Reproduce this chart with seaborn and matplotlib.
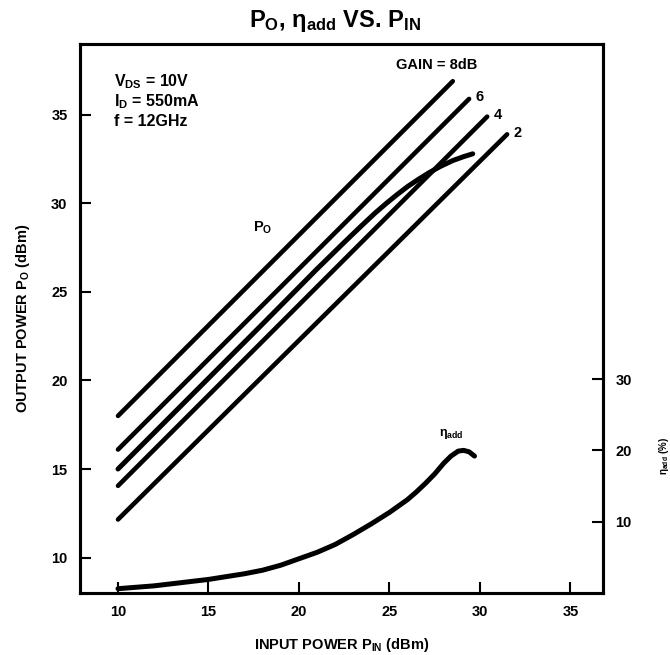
import matplotlib
matplotlib.use("Agg")
import matplotlib.pyplot as plt
import seaborn as sns
import pandas as pd

# ---- data ----
gain_labels = ["8", "6", "4", "2"]
gain_x_start = [10, 10, 10, 10]
gain_x_end = [28.5, 29.4, 30.4, 31.5]
gain_y_start = [18.0, 16.1, 14.05, 12.15]
gain_y_end = [36.9, 35.9, 34.9, 33.9]

po_pin = [10, 14, 18, 21, 22.5, 23.5, 24.2, 24.8, 25.4, 26.0, 26.6, 27.2, 27.8, 28.5, 29.1, 29.6]
po_out = [15.0, 19.1, 23.2, 26.3, 27.8, 28.78, 29.45, 29.98, 30.48, 30.95, 31.36, 31.74, 32.08, 32.42, 32.64, 32.8]

eta_pin = [10, 11, 12, 13, 14, 15, 16, 17, 18, 19, 20, 21, 22, 23, 24, 25, 26,
           26.5, 27, 27.5, 28, 28.4, 28.8, 29.1, 29.4, 29.7]
eta_pct = [0.6, 0.8, 1.0, 1.3, 1.6, 1.9, 2.3, 2.7, 3.2, 3.9, 4.8, 5.7, 6.8, 8.2, 9.7, 11.3, 13.1,
           14.2, 15.4, 16.7, 18.2, 19.2, 19.9, 20.0, 19.8, 19.2]

x_ticks = [10, 15, 20, 25, 30, 35]
y_ticks = [10, 15, 20, 25, 30, 35]
eta_ticks = [10, 20, 30]

conditions = [r"$V_{DS}$ = 10V", r"$I_D$ = 550mA", "f = 12GHz"]

# ---- style ----
sns.set_theme(style="white")
plt.rcParams["font.family"] = ["Liberation Sans", "DejaVu Sans"]
plt.rcParams["font.weight"] = "bold"
plt.rcParams["text.color"] = "black"
plt.rcParams["axes.labelcolor"] = "black"
plt.rcParams["xtick.color"] = "black"
plt.rcParams["ytick.color"] = "black"
plt.rcParams["mathtext.fontset"] = "custom"
plt.rcParams["mathtext.rm"] = "Liberation Sans:bold"
plt.rcParams["mathtext.it"] = "Liberation Sans:bold"
plt.rcParams["mathtext.bf"] = "Liberation Sans:bold"
plt.rcParams["mathtext.default"] = "rm"

fig = plt.figure(figsize=(6.7, 6.55), dpi=100)
ax = fig.add_axes([0.1194, 0.0947, 0.9 - 0.1194, 0.9328 - 0.0947])

# gain lines
rows = []
for g, xs, xe, ys, ye in zip(gain_labels, gain_x_start, gain_x_end, gain_y_start, gain_y_end):
    rows.append({"gain": g, "pin": xs, "pout": ys})
    rows.append({"gain": g, "pin": xe, "pout": ye})
gain_df = pd.DataFrame(rows)
sns.lineplot(data=gain_df, x="pin", y="pout", units="gain", estimator=None,
             color="black", lw=3.3, ax=ax, solid_capstyle="round", legend=False)

po_df = pd.DataFrame({"pin": po_pin, "pout": po_out})
sns.lineplot(data=po_df, x="pin", y="pout", color="black", lw=3.6, ax=ax,
             sort=False, estimator=None, solid_capstyle="round", solid_joinstyle="round")

ax.set_xlim(7.9, 36.8)
ax.set_ylim(8.0, 39.0)
ax.set_xticks(x_ticks)
ax.set_yticks(y_ticks)
ax.tick_params(axis="both", direction="in", length=8, width=1.5, pad=9,
               labelsize=10.5, top=False, right=False, bottom=True, left=True,
               colors="black")
for lab in ax.get_xticklabels() + ax.get_yticklabels():
    lab.set_fontweight("bold")
for s in ax.spines.values():
    s.set_linewidth(2.2)
    s.set_color("black")
ax.set_xlabel(r"INPUT POWER $P_{IN}$ (dBm)", fontsize=10.5, fontweight="bold",
              labelpad=12, color="black")
ax.set_ylabel(r"OUTPUT POWER $P_O$ (dBm)", fontsize=10.5, fontweight="bold",
              labelpad=14, color="black")

# efficiency on twin axis
ax2 = ax.twinx()
eta_df = pd.DataFrame({"pin": eta_pin, "eta": eta_pct})
sns.lineplot(data=eta_df, x="pin", y="eta", color="black", lw=3.6, ax=ax2,
             sort=False, estimator=None, solid_capstyle="round", solid_joinstyle="round")
ax2.set_ylim(0, 77)
ax2.set_yticks(eta_ticks)
ax2.tick_params(axis="y", direction="in", length=8, width=1.5, pad=9, labelsize=10.5,
                left=False, right=True, colors="black")
for lab in ax2.get_yticklabels():
    lab.set_fontweight("bold")
ax2.set_ylabel(r"$\eta_{add}$ (%)", fontsize=7, fontweight="bold", color="black")
ax2.yaxis.set_label_coords(1.103, 0.25)
ax2.grid(False)
for s in ax2.spines.values():
    s.set_linewidth(2.2)
    s.set_color("black")

# annotations
for i, t in enumerate(conditions):
    ax.text(9.8, 36.9 - i * 1.15, t, fontsize=11.5, fontweight="bold", va="center", ha="left")
ax.text(27.6, 37.8, "GAIN = 8dB", fontsize=10.5, fontweight="bold", ha="center", va="center")
for g, xe, ye in zip(gain_labels[1:], gain_x_end[1:], gain_y_end[1:]):
    ax.text(xe + 0.35, ye + 0.1, g, fontsize=10.5, fontweight="bold", ha="left", va="center")
ax.text(18.0, 28.6, r"$P_O$", fontsize=10.5, fontweight="bold", ha="center", va="center")
ax.text(28.4, 17.0, r"$\eta_{add}$", fontsize=9, fontweight="bold", ha="center", va="center")

fig.text(0.5, 0.968, r"$P_O$, $\eta_{add}$ VS. $P_{IN}$", fontsize=17,
         fontweight="bold", ha="center", va="center")

fig.savefig("out.png", dpi=100)
